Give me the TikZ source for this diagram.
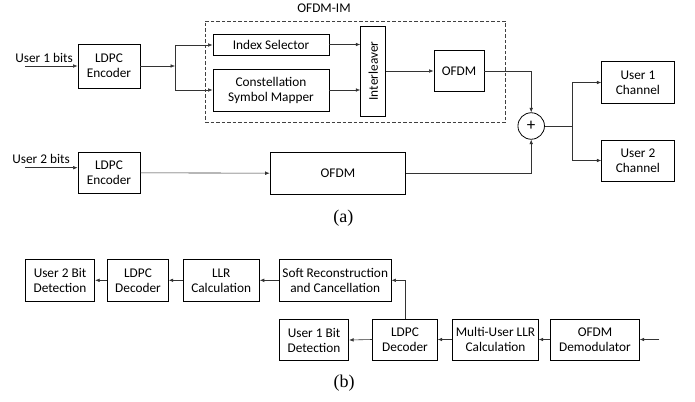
\documentclass[tikz,border=0pt]{standalone}
\usepackage{fontspec}
\setmainfont{Carlito}
\newfontfamily\capfont{Liberation Serif}
\usetikzlibrary{arrows.meta,calc}
\begin{document}
\begin{tikzpicture}[x=1pt,y=-1pt,
  font=\fontsize{13.3}{15}\selectfont,
  blk/.style={draw=black,line width=0.8pt,rectangle,align=center,inner sep=1pt,minimum height=41.5},
  conn/.style={draw=black!80,line width=0.6pt},
  arr/.style={conn,-{Latex[length=4.5pt,width=3.6pt]}},
  dashbox/.style={draw=black!75,line width=0.8pt,dash pattern=on 3.5pt off 2pt,rectangle,inner sep=0pt},
  lbl/.style={inner sep=0pt},
  captxt/.style={inner sep=0pt,font=\capfont\fontsize{18}{20}\selectfont}]
\useasboundingbox (0,0) rectangle (695,401);
% ---------- (a) ----------
\node[dashbox,minimum width=300.7,minimum height=101] (im) at (355.35,71.5) {};
\node[lbl] (imlbl) at (324,8.5) {OFDM-IM};
\node[blk,minimum width=62,minimum height=44] (enc1) at (109,66) {LDPC\\Encoder};
\node[blk,minimum width=116,minimum height=21] (isel) at (271,44.5) {Index Selector};
\node[blk,minimum width=116,minimum height=42] (csm) at (271,90) {Constellation\\Symbol Mapper};
\node[blk,minimum width=25,minimum height=90] (intl) at (373.2,71) {};
\node[lbl,rotate=90] (intltxt) at (intl.center) {Interleaver};
\node[blk,minimum width=50,minimum height=41] (ofdm1) at (459,71.2) {OFDM};
\node[draw=black,line width=0.8pt,circle,minimum size=26.5,inner sep=0pt,font=\fontsize{17}{17}\selectfont] (sum) at (531.2,126) {+};
\node[blk,minimum width=72.3,minimum height=41.6] (ch1) at (637.9,82.5) {User 1\\Channel};
\node[blk,minimum width=72.3,minimum height=41] (ch2) at (637.9,160.5) {User 2\\Channel};
\node[blk,minimum width=62,minimum height=41] (enc2) at (109,172.8) {LDPC\\Encoder};
\node[blk,minimum width=135.7,minimum height=41.7] (ofdm2) at (337.9,173.2) {OFDM};
\node[lbl] (u1bits) at (44,58) {User 1 bits};
\node[lbl] (u2bits) at (41,159) {User 2 bits};
\node[captxt] (capa) at (343.3,218) {(a)};
\coordinate (in1) at (25,66);
\coordinate (in2) at (25,167.7);
\coordinate (spl) at (175,66);
\coordinate (splt) at (175,45);
\coordinate (splb) at (175,90);
\coordinate (sout) at (572.3,126);
\draw[arr] (in1) -- (enc1.west);
\draw[arr] (in2) -- (in2 -| enc2.west);
\draw[arr] (enc1.east) -- (spl);
\draw[conn] (splt) -- (splb);
\draw[arr] (splt) -- (splt -| isel.west);
\draw[arr] (splb) -- (csm.west);
\draw[arr] (isel.east) -- (isel.east -| intl.west);
\draw[arr] (csm.east) -- (csm.east -| intl.west);
\draw[arr] (intl.east) -- (intl.east -| ofdm1.west);
\draw[arr] (ofdm1.east) -| (sum.north);
\draw[arr] (enc2.east) -- (ofdm2.west);
\draw[arr] (ofdm2.east) -| (sum.south);
\draw[conn] (sum.east) -- (sout);
\draw[arr] (sout) |- (ch1.west);
\draw[arr] (sout) |- (ch2.west);
% ---------- (b) ----------
\node[blk,minimum width=69.4,minimum height=42] (u2det) at (60,280.3) {User 2 Bit\\Detection};
\node[blk,minimum width=60.6,minimum height=42] (dec2) at (138,280.3) {LDPC\\Decoder};
\node[blk,minimum width=76.3,minimum height=42] (llr) at (221.2,280.3) {LLR\\Calculation};
\node[blk,minimum width=111.7,minimum height=42] (soft) at (335.2,280.3) {Soft Reconstruction\\and Cancellation};
\node[blk,minimum width=69.4,minimum height=41.4] (u1det) at (314,340) {User 1 Bit\\Detection};
\node[blk,minimum width=64.6,minimum height=41] (dec1) at (405,339.5) {LDPC\\Decoder};
\node[blk,minimum width=85.6,minimum height=41] (mullr) at (495.5,339.5) {Multi-User LLR\\Calculation};
\node[blk,minimum width=88.6,minimum height=41] (demod) at (595,339.5) {OFDM\\Demodulator};
\node[captxt] (capb) at (344,383) {(b)};
\coordinate (inb) at (659.3,339.5);
\draw[arr] (inb) -- (demod.east);
\draw[arr] (demod.west) -- (mullr.east);
\draw[arr] (mullr.west) -- (dec1.east);
\draw[arr] (dec1.west) -- (u1det.east);
\draw[arr] (dec1.north) |- (soft.east);
\draw[arr] (soft.west) -- (llr.east);
\draw[arr] (llr.west) -- (dec2.east);
\draw[arr] (dec2.west) -- (u2det.east);
\end{tikzpicture}
\end{document}
